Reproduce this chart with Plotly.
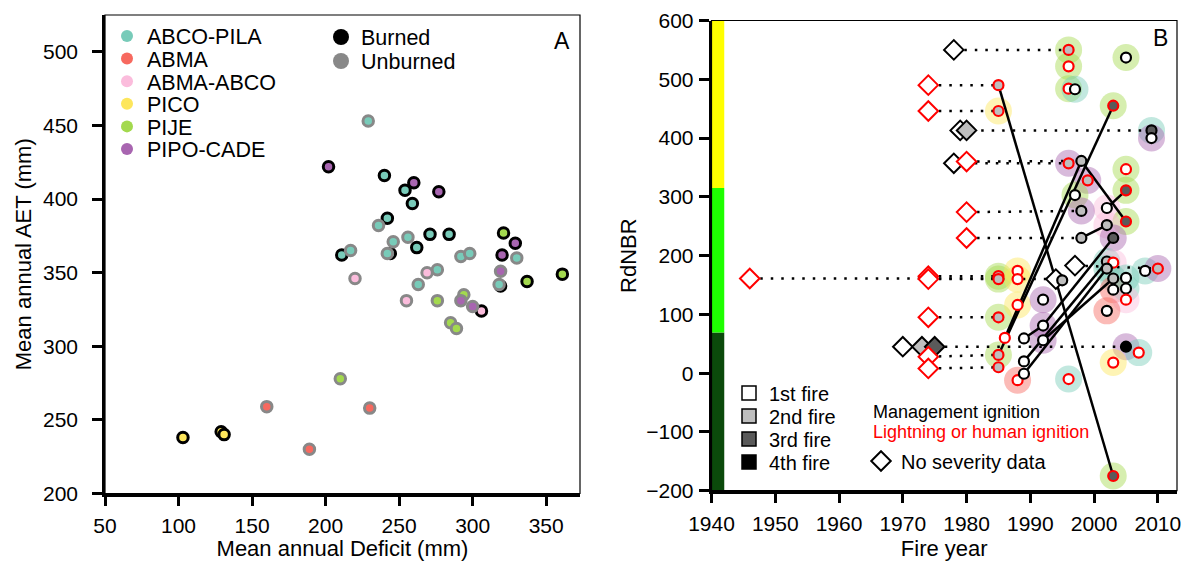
import plotly.graph_objects as go

# The page adds an 8 px body margin, so the figure is made 16 px smaller and every
# reference pixel position is converted with that offset.
REF_W, REF_H = 1190, 569
OFF = 8
W, H = REF_W - 2 * OFF, REF_H - 2 * OFF
FONT = "Liberation Sans, Arial, sans-serif"

# ---------------- Panel A data ----------------
species_names = ["ABCO-PILA", "ABMA", "ABMA-ABCO", "PICO", "PIJE", "PIPO-CADE"]
species_colors = ["#78cbb9", "#f7695f", "#fbbcdc", "#fde65c", "#a3d94e", "#a865b0"]
status_names = ["Burned", "Unburned"]
status_colors = ["#000000", "#888888"]

a_species = ["ABCO-PILA", "PIPO-CADE", "ABCO-PILA", "PIPO-CADE", "ABCO-PILA", "PIPO-CADE",
             "ABCO-PILA", "ABCO-PILA", "ABCO-PILA", "ABCO-PILA", "ABCO-PILA", "ABCO-PILA",
             "ABCO-PILA", "ABCO-PILA", "ABCO-PILA", "ABCO-PILA", "ABCO-PILA", "ABCO-PILA",
             "ABCO-PILA", "ABCO-PILA", "PIJE", "PIPO-CADE", "PIPO-CADE", "ABCO-PILA",
             "PIPO-CADE", "ABCO-PILA", "ABCO-PILA", "PIJE", "PIJE", "ABMA-ABCO",
             "ABMA-ABCO", "ABCO-PILA", "ABCO-PILA", "ABMA-ABCO", "PIJE", "PIJE",
             "PIPO-CADE", "PIPO-CADE", "ABMA-ABCO", "PIJE", "PIJE", "PIJE",
             "ABMA", "ABMA", "ABMA", "PICO", "PICO", "PICO"]
a_status = ["Unburned", "Burned", "Burned", "Burned", "Burned", "Burned",
            "Burned", "Burned", "Unburned", "Burned", "Burned", "Unburned",
            "Unburned", "Burned", "Unburned", "Burned", "Burned", "Unburned",
            "Unburned", "Unburned", "Burned", "Burned", "Burned", "Unburned",
            "Unburned", "Burned", "Unburned", "Burned", "Burned", "Unburned",
            "Unburned", "Unburned", "Unburned", "Unburned", "Unburned", "Unburned",
            "Unburned", "Unburned", "Burned", "Unburned", "Unburned", "Unburned",
            "Unburned", "Unburned", "Unburned", "Burned", "Burned", "Burned"]
a_deficit = [229, 202, 240, 260, 254, 277,
             259, 242, 236, 271, 284, 256,
             246, 262, 217, 211, 244, 242,
             292, 298, 321, 329, 320, 330,
             319, 319, 318, 337, 361, 220,
             269, 276, 263, 255, 276, 294,
             292, 300, 306, 285, 289, 210,
             160, 230, 189, 103, 129, 131]
a_aet = [453, 422, 416, 411, 406, 405,
         397, 387, 382, 376, 376, 374,
         371, 367, 365, 362, 363, 363,
         361, 363, 377, 370, 362, 360,
         351, 341, 342, 344, 349, 346,
         350, 352, 342, 331, 331, 335,
         331, 327, 324, 316, 312, 278,
         259, 258, 230, 238, 242, 240]

# ---------------- Panel B data ----------------
sev_bounds = [-200, 69, 315, 600]
sev_colors = ["#0b4a0b", "#1eff00", "#ffff00"]

order_names = ["1st fire", "2nd fire", "3rd fire", "4th fire"]
order_fill = ["#ffffff", "#bebebe", "#5a5a5a", "#000000"]
ignition_names = ["Management ignition", "Lightning or human ignition"]
ignition_colors = {"M": "#000000", "L": "#ff0000"}

# fires with severity data
b_year = [1996, 1996, 2005, 1985, 1985, 1996, 1997, 2003, 2009, 2009,
          1996, 1998, 1999, 1997, 2005, 2005, 2002, 1998, 2005, 2002,
          2003, 1998, 2002, 2003, 2002, 2003, 2005, 2003, 2005, 2005,
          2002, 2008, 2010, 1995, 1985, 1985, 1988, 1988, 1985, 1988,
          1992, 1986, 1989, 1992, 1992, 2005, 1985, 1985, 1988, 1989,
          1989, 1996, 2003, 2007, 2003]
b_rdnbr = [550, 522, 537, 490, 446, 484, 483, 455, 413, 400,
           357, 361, 328, 303, 347, 311, 281, 276, 258, 252,
           230, 230, 190, 188, 178, 161, 162, 142, 144, 125,
           106, 174, 178, 158, 165, 160, 174, 160, 95, 116,
           125, 60, 59, 81, 56, 45, 31, 10, -12, 20,
           -1, -10, 18, 35, -175]
b_order = [2, 1, 1, 2, 2, 1, 1, 3, 3, 1,
           2, 2, 2, 1, 1, 3, 1, 2, 3, 2,
           3, 2, 2, 1, 2, 2, 1, 1, 1, 1,
           1, 1, 2, 2, 2, 2, 1, 1, 2, 1,
           1, 1, 1, 1, 1, 4, 2, 2, 1, 1,
           1, 1, 1, 1, 3]
b_ignition = ["L", "L", "M", "L", "L", "L", "M", "L", "M", "M",
              "L", "M", "L", "M", "L", "L", "M", "M", "L", "M",
              "M", "M", "M", "L", "M", "M", "M", "M", "M", "L",
              "M", "M", "L", "M", "L", "L", "L", "L", "L", "L",
              "M", "L", "M", "M", "M", "M", "L", "L", "L", "M",
              "M", "L", "L", "L", "L"]
b_species = ["PIJE", "PIJE", "PIJE", None, "PICO", "PIJE", "ABCO-PILA", "PIJE", "ABCO-PILA", "PIPO-CADE",
             "PIPO-CADE", None, "PIPO-CADE", "PIJE", "PIJE", "PIJE", "ABMA-ABCO", "PIPO-CADE", "PIJE", "ABMA-ABCO",
             "PIPO-CADE", None, "ABCO-PILA", "ABMA-ABCO", "ABCO-PILA", "ABCO-PILA", "ABCO-PILA", "ABMA", "ABCO-PILA", "ABMA-ABCO",
             "ABMA", "ABCO-PILA", "PIPO-CADE", None, "PIJE", "PIJE", "PICO", "PICO", "PIJE", "PICO",
             "PIPO-CADE", None, None, "PIPO-CADE", "PIPO-CADE", "PIPO-CADE", "PIJE", None, "ABMA", None,
             None, "ABCO-PILA", "PICO", "ABCO-PILA", "PIJE"]

# fires without severity data
nd_year = [1978, 1974, 1974, 1979, 1980, 1978, 1980, 1980, 1980, 1946,
           1974, 1974, 1997, 1994, 1974, 1970, 1973, 1975, 1974, 1974]
nd_rdnbr = [550, 490, 446, 413, 413, 357, 360, 274, 230, 161,
            165, 160, 183, 160, 95, 45, 45, 45, 28, 8]
nd_order = [1, 1, 1, 1, 2, 1, 1, 1, 1, 1,
            1, 1, 1, 1, 1, 1, 2, 3, 1, 1]
nd_ignition = ["M", "L", "L", "M", "M", "M", "L", "L", "L", "L",
               "L", "L", "M", "M", "L", "M", "M", "M", "L", "L"]

# dotted links (no-severity fire -> next fire with data)
dot_x0 = [1978, 1974, 1974, 1979, 1978, 1980, 1980, 1980, 1946, 1974, 1974, 1997, 1974, 1970, 1974, 1974]
dot_y0 = [550, 490, 446, 413, 357, 360, 274, 230, 161, 165, 160, 183, 95, 45, 28, 8]
dot_x1 = [1996, 1985, 1985, 2009, 1996, 1998, 1998, 1998, 1985, 1985, 1994, 2010, 1985, 2005, 1985, 1985]
dot_y1 = [550, 490, 446, 413, 357, 361, 276, 230, 161, 165, 160, 178, 95, 45, 31, 10]

# solid links (successive fires with data)
seg_x0 = [1985, 1985, 1986, 1998, 2002, 1998, 1989, 1992, 1989, 1989, 1992]
seg_y0 = [490, 31, 60, 361, 281, 230, 59, 81, 20, -1, 56]
seg_x1 = [2003, 2003, 1998, 2005, 2005, 2002, 1992, 2003, 2002, 2002, 2003]
seg_y1 = [-175, 455, 361, 258, 311, 252, 81, 230, 190, 178, 161]

# ---------------- helpers ----------------
def hex_rgba(h, a):
    h = h.lstrip("#")
    return "rgba(%d,%d,%d,%.2f)" % (int(h[0:2], 16), int(h[2:4], 16), int(h[4:6], 16), a)

def px_x(p):
    return (p - OFF) / W

def px_y(p):
    return 1 - (p - OFF) / H

def pairs(x0, y0, x1, y1):
    xs, ys = [], []
    for a, b, c, d in zip(x0, y0, x1, y1):
        xs += [a, c, None]
        ys += [b, d, None]
    return xs, ys

fig = go.Figure()
sp_col = dict(zip(species_names, species_colors))

# ---------------- Panel A traces ----------------
for st, stc in zip(status_names, status_colors):
    for sp in species_names:
        idx = [i for i in range(len(a_species)) if a_species[i] == sp and a_status[i] == st]
        if not idx:
            continue
        fig.add_trace(go.Scatter(
            x=[a_deficit[i] for i in idx], y=[a_aet[i] for i in idx],
            mode="markers", xaxis="x", yaxis="y", showlegend=False,
            marker=dict(size=10.5, color=sp_col[sp], line=dict(color=stc, width=3)),
            hoverinfo="x+y"))

# legends (one per row, so rows can be spaced like the original)
legends = {}
for k, sp in enumerate(species_names):
    name = "legend" if k == 0 else "legend%d" % (k + 1)
    fig.add_trace(go.Scatter(x=[None], y=[None], mode="markers", name=sp, legend=name,
                             marker=dict(size=12, color=sp_col[sp], line=dict(width=0)),
                             xaxis="x", yaxis="y"))
    legends[name] = (107, 36 + 22.6 * k, 21.5, "black")
for k, (st, stc) in enumerate(zip(status_names, status_colors)):
    name = "legend%d" % (7 + k)
    fig.add_trace(go.Scatter(x=[None], y=[None], mode="markers", name=st, legend=name,
                             marker=dict(size=16, color=stc, line=dict(width=0)),
                             xaxis="x", yaxis="y"))
    legends[name] = (321, 37 + 24 * k, 21.5, "black")

# ---------------- Panel B traces ----------------
fig.add_trace(go.Bar(
    x=[1941] * 3, base=sev_bounds[:-1],
    y=[sev_bounds[i + 1] - sev_bounds[i] for i in range(3)],
    width=2, marker=dict(color=sev_colors, line=dict(width=0)),
    xaxis="x2", yaxis="y2", showlegend=False, hoverinfo="skip"))

hidx = [i for i in range(len(b_year)) if b_species[i] is not None]
fig.add_trace(go.Scatter(
    x=[b_year[i] for i in hidx], y=[b_rdnbr[i] for i in hidx], mode="markers",
    marker=dict(size=27, color=[hex_rgba(sp_col[b_species[i]], 0.45) for i in hidx], line=dict(width=0)),
    xaxis="x2", yaxis="y2", showlegend=False, hoverinfo="skip"))

dx, dy = pairs(dot_x0, dot_y0, dot_x1, dot_y1)
fig.add_trace(go.Scatter(x=dx, y=dy, mode="lines", xaxis="x2", yaxis="y2", showlegend=False,
                         line=dict(color="black", width=2.5, dash="2.5px,8px"), hoverinfo="skip"))
sx, sy = pairs(seg_x0, seg_y0, seg_x1, seg_y1)
fig.add_trace(go.Scatter(x=sx, y=sy, mode="lines", xaxis="x2", yaxis="y2", showlegend=False,
                         line=dict(color="black", width=2.5), hoverinfo="skip"))

fig.add_trace(go.Scatter(
    x=nd_year, y=nd_rdnbr, mode="markers", xaxis="x2", yaxis="y2", showlegend=False,
    marker=dict(symbol="diamond", size=15, color=[order_fill[o - 1] for o in nd_order],
                line=dict(color=[ignition_colors[g] for g in nd_ignition], width=2))))

fig.add_trace(go.Scatter(
    x=b_year, y=b_rdnbr, mode="markers", xaxis="x2", yaxis="y2", showlegend=False,
    marker=dict(symbol="circle", size=10, color=[order_fill[o - 1] for o in b_order],
                line=dict(color=[ignition_colors[g] for g in b_ignition], width=2.2))))

ord_rows = [393, 416, 439, 462]
for k, (on, of, yy) in enumerate(zip(order_names, order_fill, ord_rows)):
    name = "legend%d" % (9 + k)
    fig.add_trace(go.Scatter(x=[None], y=[None], mode="markers", name=on, legend=name,
                             marker=dict(symbol="square", size=14, color=of, line=dict(color="black", width=1.5)),
                             xaxis="x2", yaxis="y2"))
    legends[name] = (729, yy, 20, "black")
fig.add_trace(go.Scatter(x=[None], y=[None], mode="markers", name="No severity data", legend="legend13",
                         marker=dict(symbol="diamond", size=15, color="white", line=dict(color="black", width=2)),
                         xaxis="x2", yaxis="y2"))
legends["legend13"] = (861, 461, 20, "black")

# ---------------- layout ----------------
axis_common = dict(showline=True, linewidth=2.5, linecolor="black", ticks="outside", ticklen=10,
                   tickwidth=2.5, tickcolor="black", showgrid=False, zeroline=False,
                   ticklabeloverflow="allow",
                   tickfont=dict(family=FONT, size=21, color="black"))
layout = dict(
    width=W, height=H, margin=dict(l=0, r=0, t=0, b=0, autoexpand=False),
    paper_bgcolor="white", plot_bgcolor="white",
    font=dict(family=FONT, color="black"), showlegend=True, barmode="overlay",
    xaxis=dict(domain=[px_x(105), px_x(580)], range=[50, 373], tickvals=[50, 100, 150, 200, 250, 300, 350],
               title=dict(text="Mean annual Deficit (mm)", font=dict(family=FONT, size=22), standoff=10),
               anchor="y", ticklabelstandoff=2, **axis_common),
    yaxis=dict(domain=[px_y(493.5), px_y(15)], range=[200, 525], tickvals=[200, 250, 300, 350, 400, 450, 500],
               title=dict(text="Mean annual AET (mm)", font=dict(family=FONT, size=22), standoff=6),
               anchor="x", ticklabelstandoff=10, **axis_common),
    xaxis2=dict(domain=[px_x(711.5), px_x(1177)], range=[1940, 2013],
                tickvals=[1940, 1950, 1960, 1970, 1980, 1990, 2000, 2010],
                title=dict(text="Fire year", font=dict(family=FONT, size=22), standoff=10),
                anchor="y2", ticklabelstandoff=2, **axis_common),
    yaxis2=dict(domain=[px_y(490.7), px_y(20.5)], range=[-200, 600],
                tickvals=[-200, -100, 0, 100, 200, 300, 400, 500, 600],
                title=dict(text="RdNBR", font=dict(family=FONT, size=22), standoff=4),
                anchor="x2", ticklabelstandoff=1, **axis_common),
    shapes=[
        dict(type="rect", xref="x domain", yref="y domain", x0=0, x1=1, y0=0, y1=1,
             line=dict(color="black", width=1.2)),
        dict(type="rect", xref="x2 domain", yref="y2 domain", x0=0, x1=1, y0=0, y1=1,
             line=dict(color="black", width=1.2)),
    ],
    annotations=[
        dict(text="A", x=px_x(562), y=px_y(41), xref="paper", yref="paper", showarrow=False,
             font=dict(family=FONT, size=23, color="black"), xanchor="center", yanchor="middle"),
        dict(text="B", x=px_x(1160), y=px_y(38), xref="paper", yref="paper", showarrow=False,
             font=dict(family=FONT, size=23, color="black"), xanchor="center", yanchor="middle"),
        dict(text=ignition_names[0], x=px_x(871), y=px_y(411.5), xref="paper", yref="paper", showarrow=False,
             font=dict(family=FONT, size=18, color=ignition_colors["M"]), xanchor="left", yanchor="middle"),
        dict(text=ignition_names[1], x=px_x(871), y=px_y(432), xref="paper", yref="paper", showarrow=False,
             font=dict(family=FONT, size=18, color=ignition_colors["L"]), xanchor="left", yanchor="middle"),
    ],
)
for name, (lx, ly, fs, fc) in legends.items():
    layout[name] = dict(x=px_x(lx), y=px_y(ly), xanchor="left", yanchor="middle",
                        bgcolor="rgba(0,0,0,0)", borderwidth=0, itemclick=False, itemdoubleclick=False,
                        font=dict(family=FONT, size=fs, color=fc))
fig.update_layout(**layout)
fig.write_html("out.html")
